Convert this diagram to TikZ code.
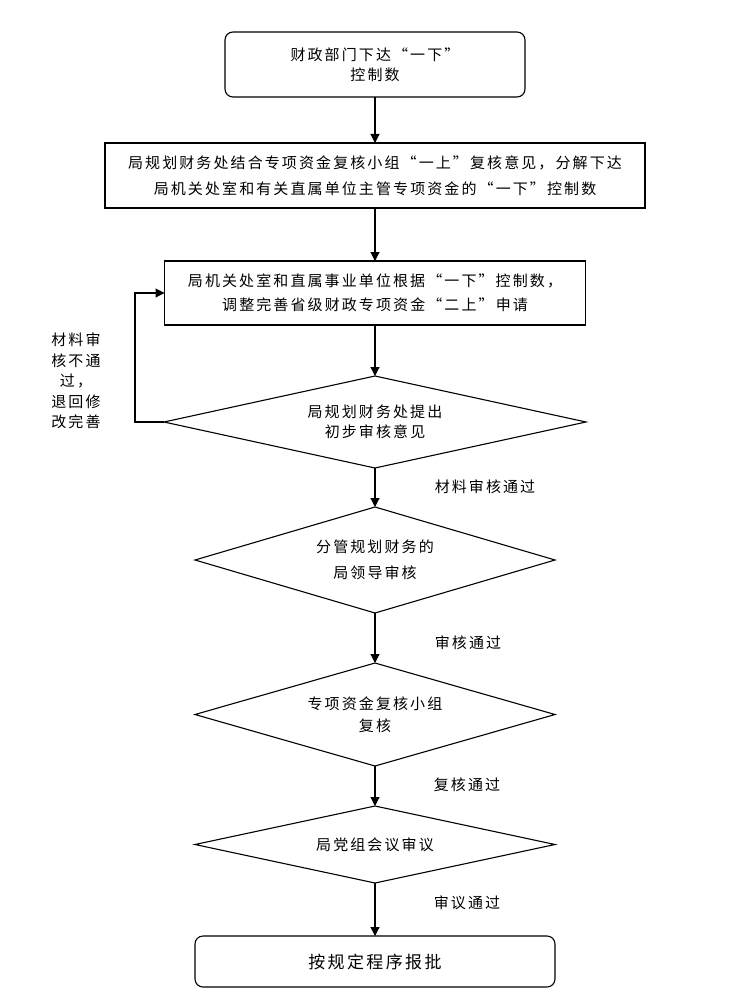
\documentclass[tikz,border=0pt]{standalone}
\usepackage{fontspec}
\setmainfont{Noto Sans CJK SC}[LetterSpace=14]
\usetikzlibrary{shapes.geometric,arrows.meta}
\begin{document}
\begin{tikzpicture}[x=1pt,y=-1pt,
  every node/.style={inner sep=0pt, outer sep=0pt, align=center},
  txt/.style={font=\fontsize{15}{#1}\selectfont},
  txt/.default=20,
  sbox/.style={draw, line width=1.1pt},
  rbox/.style={draw, line width=1.1pt, rounded corners=8pt},
  dia/.style={draw, diamond, line width=1.1pt},
  arr/.style={draw, line width=1.1pt, -{Triangle[length=9pt,width=9pt]}}]
\useasboundingbox (0,0) rectangle (735,1003);
\fill[white] (0,0) rectangle (735,1003);

\node[rbox, minimum width=300pt, minimum height=65pt, txt=20] (b1) at (375,64.5) {财政部门下达“一下”\\控制数};
\node[sbox, minimum width=540pt, minimum height=65pt, txt=26] (b2) at (375,175.5) {局规划财务处结合专项资金复核小组“一上”复核意见，分解下达\\局机关处室和有关直属单位主管专项资金的“一下”控制数};
\node[sbox, minimum width=421pt, minimum height=64pt, txt=24] (b3) at (375,293) {局机关处室和直属事业单位根据“一下”控制数，\\调整完善省级财政专项资金“二上”申请};
\node[dia, aspect=4.587, minimum width=422pt, minimum height=92pt, txt=20] (d1) at (375,422) {局规划财务处提出\\初步审核意见};
\node[dia, aspect=3.396, minimum width=360pt, minimum height=106pt, txt=26] (d2) at (375,560) {分管规划财务的\\局领导审核};
\node[dia, aspect=3.495, minimum width=360pt, minimum height=103pt, txt=22] (d3) at (375,714.5) {专项资金复核小组\\复核};
\node[dia, aspect=4.675, minimum width=360pt, minimum height=77pt, txt=20] (d4) at (375,844.5) {局党组会议审议};
\node[rbox, minimum width=360pt, minimum height=51pt, font=\fontsize{17}{20}\selectfont] (b4) at (375,961.5) {按规定程序报批};

\node[txt=20.5] (l1) at (76,381) {材料审\\核不通\\过，\\退回修\\改完善};
\node[txt] (l2) at (485,487) {材料审核通过};
\node[txt] (l3) at (468,643) {审核通过};
\node[txt] (l4) at (467,785) {复核通过};
\node[txt] (l5) at (467,903) {审议通过};

\draw[arr] (b1) -- (b2);
\draw[arr] (b2) -- (b3);
\draw[arr] (b3) -- (d1);
\draw[arr] (d1) -- (d2);
\draw[arr] (d2) -- (d3);
\draw[arr] (d3) -- (d4);
\draw[arr] (d4) -- (b4);
\draw[arr] (d1.west) -- ++(-29,0) |- (b3.west);
\end{tikzpicture}
\end{document}
